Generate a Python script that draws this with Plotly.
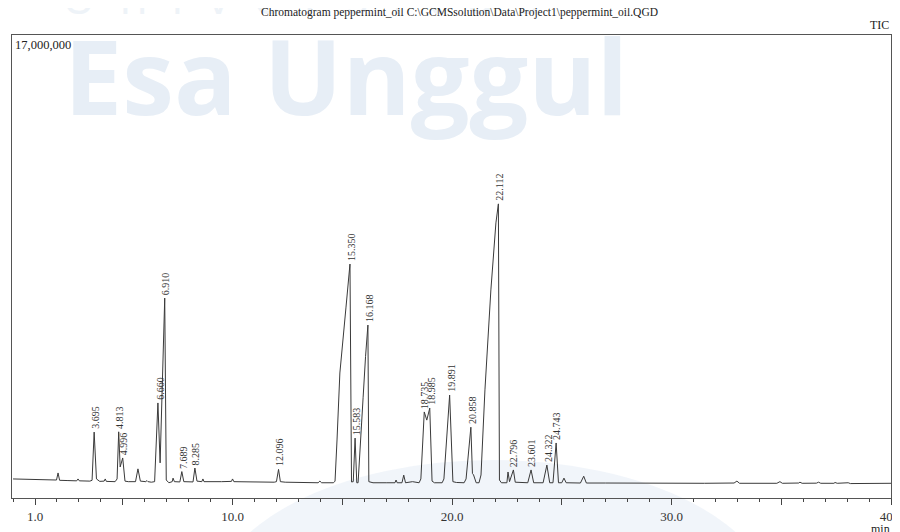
import plotly.graph_objects as go

# ---- chromatogram trace (retention time in min, intensity in counts) ----
rt_min = [0.00, 0.80, 1.50, 1.98, 2.05, 2.12, 2.50, 2.90, 2.96, 3.02, 3.50, 3.60, 3.695, 3.80, 3.95,
          4.15, 4.20, 4.25, 4.65, 4.74, 4.813, 4.88, 4.996, 5.10, 5.25, 5.58, 5.69, 5.80, 6.05, 6.10,
          6.15, 6.30, 6.45, 6.60, 6.70, 6.91, 6.98, 7.10, 7.25, 7.29, 7.35, 7.60, 7.689, 7.78, 8.20,
          8.285, 8.38, 8.60, 8.65, 8.70, 9.50, 9.95, 10.00, 10.06, 11.90, 12.00, 12.096, 12.18, 12.40,
          13.90, 13.98, 14.06, 14.60, 14.67, 14.76, 14.89, 15.17, 15.35, 15.42, 15.50, 15.583, 15.66,
          15.72, 15.80, 15.95, 16.06, 16.168, 16.21, 16.40, 17.00, 17.40, 17.45, 17.50, 17.72, 17.80,
          17.88, 18.20, 18.50, 18.58, 18.735, 18.85, 18.985, 19.09, 19.20, 19.55, 19.63, 19.891, 20.04,
          20.20, 20.55, 20.64, 20.858, 20.93, 20.98, 21.10, 21.23, 21.32, 21.50, 21.77, 22.00, 22.112,
          22.16, 22.25, 22.50, 22.55, 22.62, 22.796, 22.88, 23.45, 23.601, 23.72, 24.15, 24.322, 24.45,
          24.60, 24.743, 24.85, 25.00, 25.10, 25.20, 25.85, 26.00, 26.12, 27.00, 28.50, 30.00, 31.50,
          32.85, 32.98, 33.10, 34.80, 34.94, 35.05, 35.80, 35.85, 35.95, 36.60, 36.70, 36.80, 37.40,
          37.45, 37.55, 38.00, 38.05, 38.15, 40.00]
intensity = [700e3, 690e3, 670e3, 660e3, 920e3, 650e3, 640e3, 630e3, 700e3, 630e3, 620e3, 650e3, 2420e3, 700e3, 610e3,
             620e3, 700e3, 610e3, 600e3, 700e3, 2430e3, 1140e3, 1470e3, 620e3, 600e3, 600e3, 1070e3, 620e3, 600e3, 640e3,
             600e3, 580e3, 600e3, 3490e3, 1290e3, 7340e3, 660e3, 560e3, 600e3, 730e3, 600e3, 590e3, 970e3, 600e3, 590e3,
             1100e3, 620e3, 600e3, 700e3, 600e3, 600e3, 610e3, 700e3, 600e3, 580e3, 600e3, 1050e3, 600e3, 580e3,
             560e3, 620e3, 560e3, 560e3, 620e3, 2130e3, 4590e3, 7010e3, 8590e3, 590e3, 600e3, 2200e3, 560e3,
             560e3, 1800e3, 3700e3, 5200e3, 6350e3, 600e3, 560e3, 560e3, 560e3, 660e3, 560e3, 560e3, 840e3,
             560e3, 600e3, 560e3, 700e3, 3160e3, 2860e3, 3300e3, 620e3, 560e3, 560e3, 700e3, 3780e3, 600e3,
             570e3, 560e3, 700e3, 2600e3, 900e3, 850e3, 560e3, 560e3, 845e3, 3970e3, 7640e3, 10100e3, 10800e3,
             660e3, 560e3, 560e3, 955e3, 600e3, 1030e3, 580e3, 560e3, 1030e3, 560e3, 560e3, 1210e3, 560e3,
             560e3, 2020e3, 560e3, 560e3, 730e3, 560e3, 550e3, 800e3, 550e3, 550e3, 540e3, 550e3, 540e3,
             550e3, 620e3, 540e3, 540e3, 600e3, 540e3, 550e3, 580e3, 540e3, 545e3, 580e3, 540e3, 540e3,
             570e3, 540e3, 545e3, 560e3, 530e3, 540e3]

# ---- labelled peaks ----
peak_labels = ["3.695", "4.813", "4.996", "6.660", "6.910", "7.689", "8.285", "12.096", "15.350", "15.583",
               "16.168", "18.735", "18.985", "19.891", "20.858", "22.112", "22.796", "23.601", "24.322", "24.743"]
peak_rt = [3.695, 4.813, 4.996, 6.660, 6.910, 7.689, 8.285, 12.096, 15.350, 15.583,
           16.168, 18.735, 18.985, 19.891, 20.858, 22.112, 22.796, 23.601, 24.322, 24.743]
peak_height = [2420e3, 2430e3, 1470e3, 3490e3, 7340e3, 970e3, 1100e3, 1050e3, 8590e3, 2200e3,
               6350e3, 3160e3, 3300e3, 3780e3, 2600e3, 10800e3, 1030e3, 1030e3, 1210e3, 2020e3]

# ---- axis ----
x_tickvals = [1, 5, 10, 15, 20, 25, 30, 35, 40]
x_ticktext = ["1.0", "", "10.0", "", "20.0", "", "30.0", "", "40.0"]
y_max = 17_000_000

title_text = "Chromatogram peppermint_oil C:\\GCMSsolution\\Data\\Project1\\peppermint_oil.QGD"
SERIF = "Liberation Serif, Times New Roman, serif"

# The page body has an 8px default margin, so the figure is 892x524
# and its plot area (879x463) starts 4px/27px into the figure.
W, H = 892, 524
ML, MR, MT, MB = 4, 9, 27, 34
PW, PH = W - ML - MR, H - MT - MB

fig = go.Figure()
fig.add_trace(go.Scatter(x=rt_min, y=intensity, mode="lines",
                         line=dict(color="#3a3a3a", width=1), hoverinfo="skip", showlegend=False))

annotations = []
# watermark
annotations.append(dict(text="Esa Unggul", xref="paper", yref="paper", x=(54 - ML) / PW, y=(MT + PH - 66) / PH,
                        xanchor="left", yanchor="middle", showarrow=False,
                        font=dict(family="Open Sans", size=104, color="#e7eef6", weight="bold")))
annotations.append(dict(text="U  n  i  v  e  r  s  i  t  a  s", xref="paper", yref="paper",
                        x=(52 - ML) / PW, y=(MT + PH + 12) / PH,
                        xanchor="left", yanchor="middle", showarrow=False,
                        font=dict(family="Open Sans", size=46, color="#eef3f8")))
for lab, xv, yv in zip(peak_labels, peak_rt, peak_height):
    annotations.append(dict(text=lab, x=xv, y=yv, xref="x", yref="y", textangle=-90,
                            xanchor="center", yanchor="bottom", showarrow=False, xshift=1, yshift=1,
                            font=dict(family=SERIF, size=10, color="#333")))
annotations += [
    dict(text=title_text, xref="paper", yref="paper", x=(452 - ML) / PW, y=1.0, yshift=23, xanchor="center",
         yanchor="middle", showarrow=False, font=dict(family=SERIF, size=11.5, color="#222")),
    dict(text="TIC", xref="paper", yref="paper", x=1.0, y=1.0, xanchor="right", yanchor="bottom",
         showarrow=False, yshift=1, font=dict(family=SERIF, size=12, color="#222")),
    dict(text="17,000,000", xref="paper", yref="paper", x=0.0, y=1.0, xanchor="left", yanchor="top",
         showarrow=False, xshift=1, yshift=-1, font=dict(family=SERIF, size=12.5, color="#222")),
    dict(text="min", xref="paper", yref="paper", x=(872 - ML) / PW, y=0.0, xanchor="center", yanchor="top",
         showarrow=False, yshift=-22, font=dict(family=SERIF, size=12, color="#222")),
]

fig.update_layout(
    width=W, height=H,
    margin=dict(l=ML, r=MR, t=MT, b=MB, autoexpand=False),
    paper_bgcolor="white", plot_bgcolor="rgba(0,0,0,0)",
    annotations=annotations,
    shapes=[dict(type="circle", xref="paper", yref="paper", layer="below",
                 x0=(205 - ML) / PW, x1=(765 - ML) / PW, y0=(MT + PH - 740) / PH, y1=(MT + PH - 452) / PH,
                 line=dict(width=0), fillcolor="rgba(205,220,238,0.28)")],
    xaxis=dict(range=[-0.048, 40], tickmode="array", tickvals=x_tickvals, ticktext=x_ticktext,
               ticks="outside", ticklen=6, tickcolor="#444", showgrid=False, zeroline=False,
               showline=True, linecolor="#555", linewidth=1, mirror=True, automargin=False,
               ticklabeloverflow="allow",
               minor=dict(ticks="outside", ticklen=3, tickmode="linear", tick0=0, dtick=1, tickcolor="#444"),
               tickfont=dict(family=SERIF, size=13, color="#333")),
    yaxis=dict(range=[0, y_max], showticklabels=False, ticks="", showgrid=False, zeroline=False,
               showline=True, linecolor="#555", linewidth=1, mirror=True, automargin=False),
)

fig.write_html("out.html")
